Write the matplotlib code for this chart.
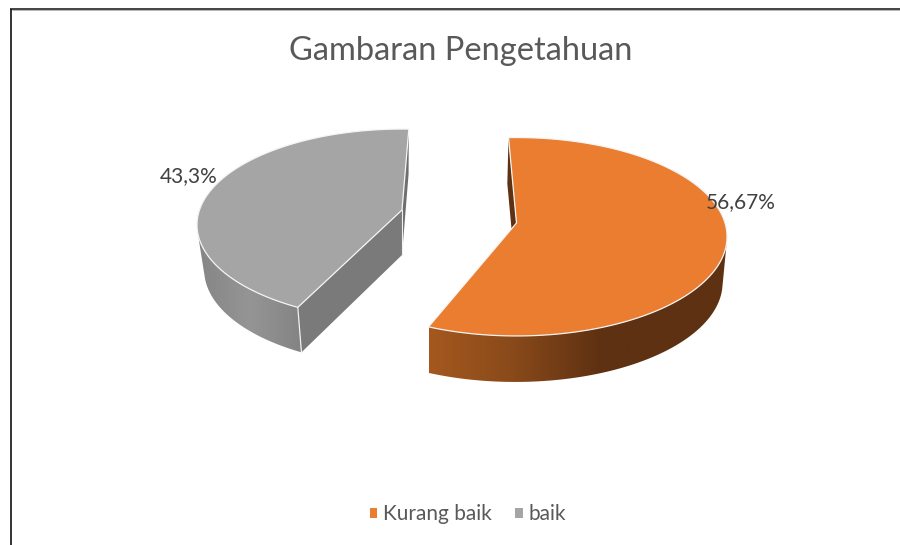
import numpy as np
import matplotlib
matplotlib.use("Agg")
import matplotlib.pyplot as plt
from matplotlib.patches import Polygon, Patch
from matplotlib.colors import to_rgb

# --- data -------------------------------------------------------------
categories = ["Kurang baik", "baik"]
values = [56.67, 43.3]
value_labels = ["56,67%", "43,3%"]
title = "Gambaran Pengetahuan"

# --- style ------------------------------------------------------------
TOP = {"Kurang baik": "#EB7D30", "baik": "#A5A5A5"}
CUT = {"Kurang baik": "#5E3112", "baik": "#7A7A7A"}
TEXT = "#595959"
plt.rcParams["font.family"] = ["Lato", "DejaVu Sans"]

# per-slice projection: apex px, x/y scale, perspective, rim depth, first angle
GEOM = {
    "Kurang baik": dict(ax=516.5, ay=223, sx=208.5, sy=97.3, k=0.1385, d=46, a0=-2.5,
                        shrink=0.985, anchor=430, front=(60, 360),
                        ramp=[(425, "#A5591F"), (510, "#8A4A1A"), (600, "#5E3112"), (730, "#5E3112")]),
    "baik": dict(ax=402, ay=210, sx=202.5, sy=93.5, k=0.155, d=45, a0=206.3,
                 shrink=0.965, anchor=402, front=(0, 310),
                 ramp=[(197, "#858585"), (250, "#959595"), (305, "#828282")]),
}


def project(g, deg):
    t = np.radians(deg)
    X, Y = np.sin(t), np.cos(t)
    w = 1 + g["k"] * Y
    return g["ax"] + g["sx"] * X / w, g["ay"] - g["sy"] * Y / w


def lower(g, x, y):
    return g["anchor"] + g["shrink"] * (np.asarray(x) - g["anchor"]), np.asarray(y) + g["d"]


def ramp_image(g, x0, x1):
    xs = [p[0] for p in g["ramp"]]
    cs = np.array([to_rgb(p[1]) for p in g["ramp"]])
    grid = np.linspace(x0, x1, 512)
    return np.stack([np.interp(grid, xs, cs[:, i]) for i in range(3)], axis=-1)[None, :, :]


def convex_hull(points):
    pts = sorted(set(map(tuple, points)))

    def half(seq):
        out = []
        for p in seq:
            while len(out) >= 2 and ((out[-1][0] - out[-2][0]) * (p[1] - out[-2][1])
                                     - (out[-1][1] - out[-2][1]) * (p[0] - out[-2][0])) <= 0:
                out.pop()
            out.append(p)
        return out[:-1]

    return np.array(half(pts) + half(pts[::-1]))


fig = plt.figure(figsize=(9, 5.45), dpi=100)
ax = fig.add_axes([0, 0, 1, 1])
ax.axis("off")

total = sum(values)
for name, val in zip(categories, values):
    g = GEOM[name]
    sweep = 360 * val / total
    ang = np.linspace(g["a0"], g["a0"] + sweep, 360)
    rx, ry = project(g, ang)
    lx, ly = lower(g, rx, ry)
    apx, apy = g["ax"], g["ay"]
    alx, aly = lower(g, apx, apy)

    # flat cut walls
    ax.add_patch(Polygon([(apx, apy), (rx[0], ry[0]), (lx[0], ly[0]), (alx, aly)],
                         fc=CUT[name], ec="none", zorder=2))
    if name == "baik":
        ax.plot([rx[0], lx[0]], [ry[0], ly[0]], color="#F0F0F0", lw=0.9, zorder=4)
        ax.plot([apx, alx], [apy, aly], color="#F0F0F0", lw=0.8, zorder=4)
        ax.add_patch(Polygon([(apx, apy), (rx[-1], ry[-1]), (lx[-1], ly[-1]), (alx, aly)],
                             fc="#6E6E6E", ec="none", zorder=2))

    # outer wall: horizontal shading clipped to the hull of the front-facing rim
    mask = (ang >= g["front"][0]) & (ang <= g["front"][1])
    pts = np.column_stack([np.r_[rx[mask], lx[mask]], np.r_[ry[mask], ly[mask]]])
    outline = Polygon(convex_hull(pts), closed=True, transform=ax.transData, fc="none", ec="none")
    ax.add_patch(outline)
    x0, x1 = pts[:, 0].min(), pts[:, 0].max()
    y0, y1 = pts[:, 1].min(), pts[:, 1].max()
    im = ax.imshow(ramp_image(g, x0, x1), extent=(x0, x1, y1, y0), aspect="auto",
                   interpolation="bilinear", zorder=3)
    im.set_clip_path(outline)

    # top face
    ax.add_patch(Polygon(np.column_stack([np.r_[apx, rx], np.r_[apy, ry]]), closed=True,
                         fc=TOP[name], ec="#F5F5F5", lw=0.9, joinstyle="miter", zorder=5))

ax.set_xlim(0, 900)
ax.set_ylim(545, 0)

# value labels
ax.text(741, 202, value_labels[0], ha="center", va="center", fontsize=15, color="#404040", zorder=6)
ax.text(189, 176, value_labels[1], ha="center", va="center", fontsize=15, color="#404040", zorder=6)

# title
ax.text(461, 51, title, ha="center", va="center", fontsize=23.5, color=TEXT)

# legend
handles = [Patch(fc=TOP[c], ec="none") for c in categories]
leg = ax.legend(handles, categories, ncol=2, frameon=False, loc="center",
                bbox_to_anchor=(468 / 900, 1 - 514 / 545), fontsize=15, labelcolor=TEXT,
                handlelength=0.36, handleheight=0.36, handletextpad=0.29, columnspacing=1.1,
                borderpad=0, borderaxespad=0)

# frame of the pasted picture
ax.plot([10.8, 10.8], [545, 9], color="#111111", lw=1.2, solid_capstyle="butt", zorder=7)
ax.plot([10.2, 900], [9, 9], color="#111111", lw=1.1, solid_capstyle="butt", zorder=7)
ax.plot([12, 900], [10.2, 10.2], color="#A8A8A8", lw=0.6, solid_capstyle="butt", zorder=7)

fig.savefig("out.png", dpi=100, facecolor="white")
